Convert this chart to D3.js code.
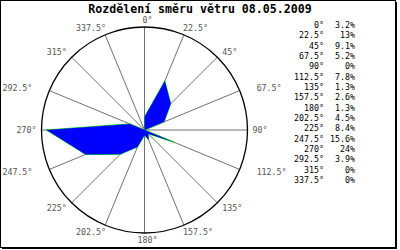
<!DOCTYPE html>
<html><head><meta charset="utf-8">
<script src="https://cdn.jsdelivr.net/npm/d3@7/dist/d3.min.js"></script>
<style>
html,body{margin:0;padding:0;background:#fff;}
svg{display:block;}
</style></head>
<body>
<svg id="chart" width="400" height="250"></svg>
<script>
const title = "Rozdělení směru větru 08.05.2009";
const directions = [0, 22.5, 45, 67.5, 90, 112.5, 135, 157.5, 180, 202.5, 225, 247.5, 270, 292.5, 315, 337.5];
const dirLabels = ["0°","22.5°","45°","67.5°","90°","112.5°","135°","157.5°","180°","202.5°","225°","247.5°","270°","292.5°","315°","337.5°"];
const values = [3.2, 13, 9.1, 5.2, 0, 7.8, 1.3, 2.6, 1.3, 4.5, 8.4, 15.6, 24, 3.9, 0, 0];
const valueLabels = ["3.2%","13%","9.1%","5.2%","0%","7.8%","1.3%","2.6%","1.3%","4.5%","8.4%","15.6%","24%","3.9%","0%","0%"];

const svg = d3.select("#chart");
const cx = 144.5, cy = 130, R = 103, LR = 110;
const mono = "'DejaVu Sans Mono', 'Liberation Mono', monospace";
const fs = "8.3px";

// frame
svg.append("rect").attr("x",0.5).attr("y",0.5).attr("width",395).attr("height",247)
  .attr("fill","none").attr("stroke","#000").attr("stroke-width",1);
svg.append("line").attr("x1",396.5).attr("x2",396.5).attr("y1",2).attr("y2",249).attr("stroke","#000");
svg.append("line").attr("x1",2).attr("x2",397).attr("y1",248.5).attr("y2",248.5).attr("stroke","#000");

// title
svg.append("text").attr("x",200).attr("y",13).attr("text-anchor","middle")
  .attr("font-family",mono).attr("font-weight","bold").attr("font-size","11.6px")
  .attr("fill","#000").text(title);

const rScale = d3.scaleLinear().domain([0, 25.2]).range([0, R]);
const ang = d => d * Math.PI / 180;

const g = svg.append("g").attr("transform",`translate(${cx},${cy})`);

// spokes
g.selectAll("line.spoke").data(directions).join("line")
  .attr("class","spoke")
  .attr("x1",0).attr("y1",0)
  .attr("x2",d => R*Math.sin(ang(d))).attr("y2",d => -R*Math.cos(ang(d)))
  .attr("stroke","#707070").attr("stroke-width",1);

// polygon
const radial = d3.lineRadial().angle((d,i) => ang(directions[i])).radius(d => rScale(d)).curve(d3.curveLinearClosed);
g.append("path").attr("d", radial(values)).attr("fill","none").attr("stroke","#00e000").attr("stroke-width",1);
g.append("path").attr("d", radial(values)).attr("fill","#0000ff").attr("stroke","none");

// circle
g.append("circle").attr("r",R).attr("fill","none").attr("stroke","#000").attr("stroke-width",1.3);

// axis labels (placement mimics the original library's label alignment)
function labelShift(d){
  const s = Math.abs(Math.sin(ang(d)));
  if (s < 0.01) return 3;
  if (s > 0.99) return -2;
  if (s > 0.9) return 10.5;
  if (s < 0.5) return -3.6;
  return 0;
}
g.selectAll("text.axl").data(directions).join("text")
  .attr("class","axl")
  .attr("x", d => { const s = Math.sin(ang(d)); const sh = labelShift(d);
      return LR*s + (Math.abs(s)<0.01 ? sh : Math.sign(s)*sh); })
  .attr("y", d => -LR*Math.cos(ang(d)))
  .attr("dy","0.35em")
  .attr("text-anchor", d => { const s = Math.sin(ang(d)); return Math.abs(s)<0.01 ? "middle" : (s>0 ? "start" : "end"); })
  .attr("font-family",mono).attr("font-size",fs).attr("fill","#555")
  .text((d,i) => dirLabels[i]);

// legend table
const rowY = d3.scaleLinear().domain([0,1]).range([25, 35.35]);
const leg = svg.append("g");
leg.selectAll("text.ld").data(dirLabels).join("text")
  .attr("x",324).attr("y",(d,i)=>rowY(i)).attr("dy","0.35em").attr("text-anchor","end")
  .attr("font-family",mono).attr("font-size",fs).attr("fill","#000").text(d=>d);
leg.selectAll("text.lv").data(valueLabels).join("text")
  .attr("x",355).attr("y",(d,i)=>rowY(i)).attr("dy","0.35em").attr("text-anchor","end")
  .attr("font-family",mono).attr("font-size",fs).attr("fill","#000").text(d=>d);
</script>
</body></html>
